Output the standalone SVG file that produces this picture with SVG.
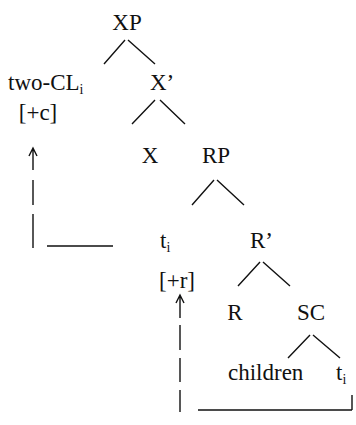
<svg xmlns="http://www.w3.org/2000/svg" width="356" height="425" viewBox="0 0 356 425">
<style>
text{font-family:"Liberation Serif","Times New Roman",serif;font-size:23px;fill:#111}
.m{text-anchor:middle}
.sub{font-size:14px}
path{stroke:#111;stroke-width:1.4;fill:none}
</style>
<rect width="356" height="425" fill="#fff"/>
<g id="connectors">
<path d="M125 40 L104 64 M128 40 L155 64"/>
<path d="M155 100 L132 124 M160 100 L185 124"/>
<path d="M214 180 L192 205 M217 180 L244 205"/>
<path d="M260 262 L238 286 M263 262 L290 286"/>
<path d="M310 335 L288 358 M313 335 L340 358"/>
<path d="M33 170 L33 148 M29 156 L33 148 L37 156"/>
<path d="M33 180 L33 205 M33 214 L33 248 M47 246 L113 246"/>
<path d="M180 318 L180 295 M176 303 L180 295 L184 303"/>
<path d="M180 325 L180 350 M180 358 L180 382 M180 390 L180 412 M198 410 L352 410 M352 395 L352 410"/>
</g>
<g id="XP"><text class="m" x="127" y="30">XP</text></g>
<g id="two-CL"><text x="8" y="90">two-CL<tspan class="sub" dy="4">i</tspan></text><text class="m" x="38" y="120">[+c]</text></g>
<g id="Xbar"><text x="150" y="90">X’</text></g>
<g id="X"><text class="m" x="150" y="163">X</text></g>
<g id="RP"><text class="m" x="216" y="163">RP</text></g>
<g id="t1"><text x="160" y="248">t<tspan class="sub" dy="4">i</tspan></text><text class="m" x="177" y="288">[+r]</text></g>
<g id="Rbar"><text x="250" y="248">R’</text></g>
<g id="R"><text class="m" x="235" y="320">R</text></g>
<g id="SC"><text class="m" x="311" y="320">SC</text></g>
<g id="children"><text x="228" y="380">children</text></g>
<g id="t2"><text x="336" y="380">t<tspan class="sub" dy="4">i</tspan></text></g>
</svg>
